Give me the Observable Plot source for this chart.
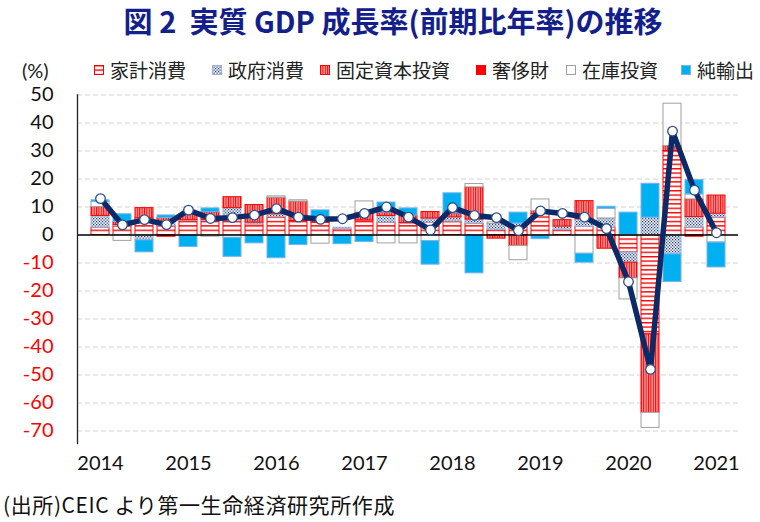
<!DOCTYPE html>
<html><head><meta charset="utf-8">
<script src="https://cdn.jsdelivr.net/npm/d3@7"></script>
<script src="https://cdn.jsdelivr.net/npm/@observablehq/plot@0.6"></script>
<style>
body{margin:0;background:#fff;width:760px;height:522px;position:relative;overflow:hidden;font-family:"Noto Sans CJK JP","Noto Sans",sans-serif;color:#222}
#title{position:absolute;left:0;top:1px;width:786px;text-align:center;font-size:29px;font-weight:bold;color:#13208c;line-height:38px;white-space:nowrap}
#unit{position:absolute;left:22px;top:57px;font-size:20px;line-height:26px;font-family:Lato,"Liberation Sans",sans-serif;color:#222}
.item{position:absolute;top:57px;height:26px;line-height:26px;font-size:19px;white-space:nowrap;display:flex;align-items:center}
.item svg{margin-right:6px}
#chart{position:absolute;left:0;top:80px}
#caption{position:absolute;left:3px;top:490px;font-size:21px;line-height:28px;white-space:nowrap;color:#111;letter-spacing:0.6px}
</style></head>
<body>
<svg width="0" height="0" style="position:absolute">
<defs>
<pattern id="pHH" patternUnits="userSpaceOnUse" width="6" height="4.4">
<rect width="6" height="4.4" fill="#ffffff"/>
<rect y="0" width="6" height="1.4" fill="#ff0000"/>
</pattern>
<pattern id="pFI" patternUnits="userSpaceOnUse" width="2.4" height="6">
<rect width="2.4" height="6" fill="#ff9c9c"/>
<rect width="1" height="6" fill="#ff0000"/>
</pattern>
<pattern id="pGov" patternUnits="userSpaceOnUse" width="3" height="3">
<rect width="3" height="3" fill="#eef1f8"/>
<rect x="0" y="0" width="1.2" height="1.2" fill="#1f3b7a"/>
<rect x="1.5" y="1.5" width="1.2" height="1.2" fill="#1f3b7a"/>
</pattern>
</defs>
</svg>
<div id="title">図 2&nbsp; 実質 GDP 成長率(前期比年率)の推移</div>
<div id="unit">(%)</div>
<div id="legend"></div>
<div id="chart"></div>
<div id="caption">(出所)CEIC より第一生命経済研究所作成</div>
<script>
const quarters = ["2014Q1","2014Q2","2014Q3","2014Q4","2015Q1","2015Q2","2015Q3","2015Q4",
  "2016Q1","2016Q2","2016Q3","2016Q4","2017Q1","2017Q2","2017Q3","2017Q4",
  "2018Q1","2018Q2","2018Q3","2018Q4","2019Q1","2019Q2","2019Q3","2019Q4",
  "2020Q1","2020Q2","2020Q3","2020Q4","2021Q1"];
const yearTicks = ["2014Q1","2015Q1","2016Q1","2017Q1","2018Q1","2019Q1","2020Q1","2021Q1"];
const yearLabels = ["2014","2015","2016","2017","2018","2019","2020","2021"];
const yTicksPos = [0,10,20,30,40,50];
const yTicksNeg = [-70,-60,-50,-40,-30,-20,-10];
const seriesNames = ["家計消費","政府消費","固定資本投資","奢侈財","在庫投資","純輸出"];

const household = [2.6,3.2,6.0,3.2,5.0,5.0,6.2,3.8,6.4,5.0,4.4,2.0,5.2,4.4,4.0,4.4,4.8,4.0,1.8,2.7,7.5,1.8,2.9,2.6,-6.3,-35.5,30.0,2.6,6.2];
const government = [4.2,0.4,-1.9,1.5,0.3,0.4,3.4,0.6,1.0,0,0,0.6,0,2.4,0.3,1.5,1.5,1.5,2.1,1.4,-0.5,1.2,2.7,3.3,-3.6,6.2,-6.9,3.8,1.4];
const fixedInvestment = [3.2,1.0,3.6,1.4,2.0,2.7,3.9,6.3,5.9,6.9,2.0,0,2.8,1.2,2.6,2.3,1.4,11.5,-1.3,-3.9,1.0,2.3,6.5,-4.9,-5.6,-28.0,1.8,6.3,6.5];
const valuables = [0,0,0,-0.6,0,0,0,0,0,0,0,0,0,0,0,0,0,0,0,0,0,0,0,0,0,0,0,-0.6,0];
const inventory = [1.8,-2.1,0,0,0,-0.6,-1.0,0,0.5,0.5,-3.1,0,4.0,-3.0,-3.0,-2.2,0,1.2,0.6,-5.1,4.2,0,-6.7,3.5,-7.5,-5.4,15.1,1.8,-2.7];
const netExports = [0.6,2.8,-4.3,0.9,-4.3,1.4,-6.8,-3.0,-8.3,-3.6,2.4,-3.3,-2.5,3.6,2.6,-8.4,7.2,-13.7,0,3.9,-1.0,0,-3.2,0.7,8.0,12.1,-9.9,5.1,-8.9];
const gdp = [13.0,3.6,5.5,3.7,8.9,5.9,6.2,7.1,9.4,6.4,5.6,5.8,7.7,10.0,6.4,1.8,9.8,7.0,6.2,1.6,8.6,7.7,6.4,2.3,-16.7,-48.0,37.1,16.0,0.8];

const fills = {"家計消費":"url(#pHH)","政府消費":"url(#pGov)","固定資本投資":"url(#pFI)","奢侈財":"#ff0000","在庫投資":"#ffffff","純輸出":"#00b0f0"};
const strokes = {"家計消費":"#ff0000","政府消費":"#9fb2da","固定資本投資":"#ff0000","奢侈財":"#ff0000","在庫投資":"#a0a0a0","純輸出":"#7ab4ea"};

const components = [household, government, fixedInvestment, valuables, inventory, netExports];
const rows = [];
seriesNames.forEach((name, s) => components[s].forEach((v, i) => {
  if (v !== 0) rows.push({quarter: quarters[i], series: name, value: v});
}));
const gdpRows = quarters.map((q, i) => ({quarter: q, value: gdp[i]}));

// legend
const legendLeft = [94, 212, 320, 476, 566, 681];
const legend = document.getElementById("legend");
seriesNames.forEach((name, i) => {
  const d = document.createElement("div");
  d.className = "item";
  d.style.left = legendLeft[i] + "px";
  d.innerHTML = `<svg width="10" height="10"><rect x="0.5" y="0.5" width="9" height="9" fill="${fills[name]}" stroke="${strokes[name]}" stroke-width="1"/></svg><span>${name}</span>`;
  legend.appendChild(d);
});

const tickFont = "Lato, 'Liberation Sans', sans-serif";
const plot = Plot.plot({
  width: 760,
  height: 400,
  marginTop: 14.5,
  marginBottom: 36.9,
  marginLeft: 77,
  marginRight: 22,
  style: {fontFamily: tickFont, background: "transparent"},
  x: {domain: quarters, paddingInner: 0.2, paddingOuter: 0.08, label: null},
  y: {domain: [-74.5, 50], label: null},
  color: {type: "identity"},
  marks: [
    Plot.gridY([...yTicksNeg, ...yTicksPos.filter(t => t !== 0)], {stroke: "#d4d4d4", strokeOpacity: 1, strokeDasharray: "5,3"}),
    Plot.barY(rows, {x: "quarter", y: "value", fill: d => fills[d.series], stroke: d => strokes[d.series], strokeWidth: 1}),
    Plot.ruleY([0], {stroke: "#000", strokeWidth: 1.3}),
    Plot.frame({anchor: "left", stroke: "#222", strokeWidth: 1.3}),
    Plot.line(gdpRows, {x: "quarter", y: "value", stroke: "#0c2a68", strokeWidth: 5.5, strokeLinejoin: "round"}),
    Plot.dot(gdpRows, {x: "quarter", y: "value", r: 4.8, fill: "#ffffff", stroke: "#2f4f8f", strokeWidth: 1.3}),
    Plot.axisY(yTicksPos, {label: null, tickSize: 0, tickPadding: 24, fontSize: 20, fill: "#111", tickFormat: d => String(d)}),
    Plot.axisY(yTicksNeg, {label: null, tickSize: 0, tickPadding: 24, fontSize: 20, fill: "#ff0000", tickFormat: d => String(d)}),
    Plot.axisX(yearTicks, {label: null, tickSize: 0, tickPadding: 12, fontSize: 20, fill: "#111", tickFormat: q => yearLabels[yearTicks.indexOf(q)]})
  ]
});
document.getElementById("chart").appendChild(plot);
</script>
</body></html>
